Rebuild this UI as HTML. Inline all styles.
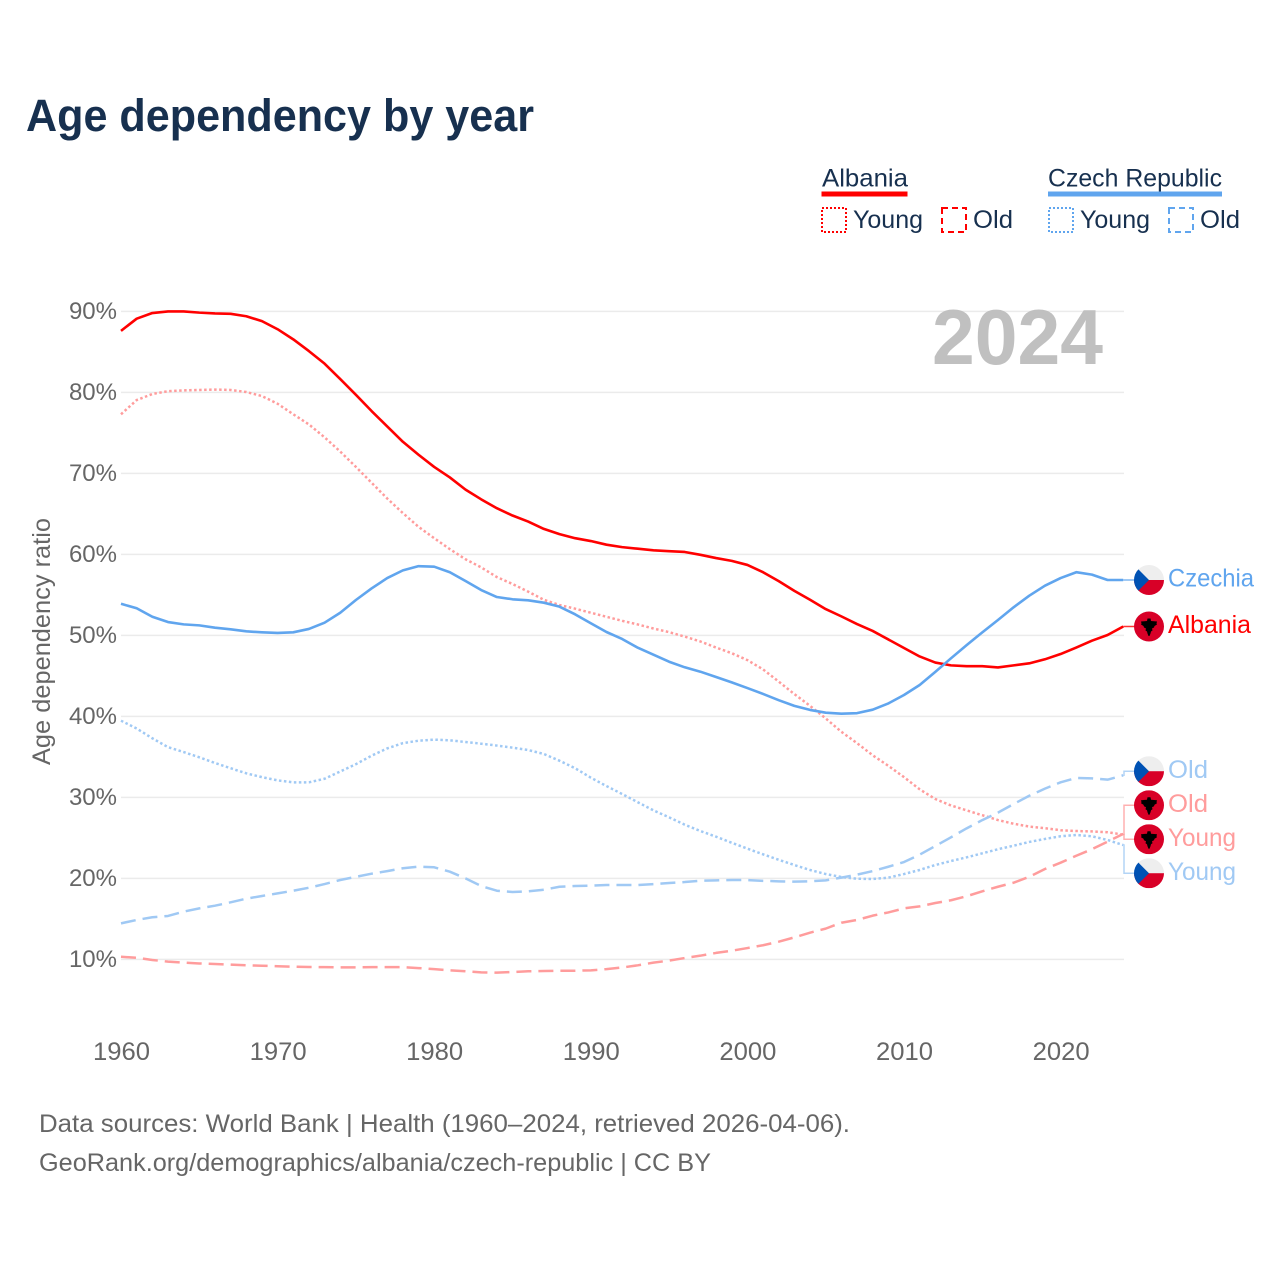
<!DOCTYPE html>
<html lang="en">
<head>
<meta charset="utf-8">
<title>Age dependency by year</title>
<style>
html,body{margin:0;padding:0;background:#fff;width:1280px;height:1280px;overflow:hidden}
svg{display:block}
text{font-family:"Liberation Sans",sans-serif}
</style>
</head>
<body>
<svg id="chart" width="1280" height="1280" viewBox="0 0 1280 1280" xmlns="http://www.w3.org/2000/svg">
  <defs><clipPath id="flag-clip"><circle cx="0" cy="0" r="15"></circle></clipPath></defs>
  <rect width="1280" height="1280" fill="#ffffff"></rect>
  <text x="26" y="131" font-size="45" font-weight="700" fill="#17304f" textLength="508" lengthAdjust="spacingAndGlyphs">Age dependency by year</text>

  <g font-size="25" fill="#17304f">
    <text x="822" y="186.5" textLength="86" lengthAdjust="spacingAndGlyphs">Albania</text>
    <rect x="821.5" y="191.5" width="86" height="5" fill="#ff0000"></rect>
    <rect x="822" y="208" width="24" height="24" fill="none" stroke="#ff0000" stroke-width="2" stroke-dasharray="2 2"></rect>
    <text x="853" y="228" textLength="70" lengthAdjust="spacingAndGlyphs">Young</text>
    <rect x="942" y="208" width="24" height="24" fill="none" stroke="#ff0000" stroke-width="2" stroke-dasharray="6 4"></rect>
    <text x="973" y="228" textLength="40" lengthAdjust="spacingAndGlyphs">Old</text>

    <text x="1048" y="186.5" textLength="174" lengthAdjust="spacingAndGlyphs">Czech Republic</text>
    <rect x="1048" y="191.5" width="174" height="5" fill="#60a5ee"></rect>
    <rect x="1049" y="208" width="24" height="24" fill="none" stroke="#60a5ee" stroke-width="2" stroke-dasharray="2 2"></rect>
    <text x="1080" y="228" textLength="70" lengthAdjust="spacingAndGlyphs">Young</text>
    <rect x="1169" y="208" width="24" height="24" fill="none" stroke="#60a5ee" stroke-width="2" stroke-dasharray="6 4"></rect>
    <text x="1200" y="228" textLength="40" lengthAdjust="spacingAndGlyphs">Old</text>
  </g>

  <g id="grid"></g>
  <g id="y-ticks"></g>
  <g id="x-ticks"></g>

  <text transform="translate(50,765) rotate(-90)" font-size="25" fill="#666666" textLength="247" lengthAdjust="spacingAndGlyphs">Age dependency ratio</text>

  <text x="932" y="364" font-size="78" font-weight="700" fill="#c0c0c0" textLength="171" lengthAdjust="spacingAndGlyphs">2024</text>

  <g id="series"></g>
  <g id="end-labels"></g>

  <text x="39" y="1132" font-size="25" fill="#666666" textLength="811" lengthAdjust="spacingAndGlyphs">Data sources: World Bank | Health (1960–2024, retrieved 2026-04-06).</text>
  <text x="39" y="1171" font-size="25" fill="#666666" textLength="672" lengthAdjust="spacingAndGlyphs">GeoRank.org/demographics/albania/czech-republic | CC BY</text>
</svg>

<script>
const firstYear = 1960;
const xTickYears = [1960, 1970, 1980, 1990, 2000, 2010, 2020];
const yTickValues = [10, 20, 30, 40, 50, 60, 70, 80, 90];

const albaniaTotal = [87.6,89.1,89.8,90.0,90.0,89.85,89.75,89.7,89.4,88.8,87.8,86.55,85.1,83.55,81.65,79.7,77.7,75.8,73.9,72.3,70.8,69.5,68.0,66.8,65.7,64.8,64.05,63.15,62.5,62.0,61.65,61.2,60.9,60.7,60.5,60.4,60.3,59.95,59.55,59.2,58.7,57.8,56.7,55.5,54.4,53.25,52.35,51.4,50.55,49.5,48.45,47.4,46.65,46.3,46.2,46.2,46.05,46.3,46.55,47.05,47.7,48.5,49.35,50.05,51.1];
const albaniaYoung = [77.3,79.05,79.8,80.15,80.25,80.3,80.35,80.3,80.05,79.55,78.6,77.3,76.05,74.45,72.7,70.8,68.85,66.9,65.1,63.4,62.0,60.65,59.4,58.4,57.2,56.35,55.4,54.4,53.75,53.3,52.8,52.3,51.8,51.35,50.85,50.4,49.85,49.25,48.5,47.8,46.95,45.8,44.3,42.75,41.3,39.75,38.1,36.7,35.2,33.9,32.5,31.0,29.8,29.0,28.4,27.8,27.2,26.75,26.4,26.2,25.95,25.85,25.8,25.7,25.4];
const albaniaOld = [10.33,10.2,9.93,9.72,9.6,9.5,9.43,9.35,9.27,9.22,9.15,9.1,9.06,9.05,9.02,9.02,9.05,9.05,9.05,8.93,8.8,8.65,8.53,8.4,8.36,8.44,8.53,8.57,8.6,8.6,8.65,8.8,9.0,9.27,9.6,9.85,10.17,10.46,10.8,11.07,11.4,11.75,12.19,12.72,13.3,13.8,14.53,14.87,15.4,15.8,16.3,16.55,16.96,17.3,17.8,18.4,18.97,19.47,20.2,21.16,21.94,22.8,23.6,24.53,25.5];
const czechTotal = [53.9,53.35,52.3,51.65,51.36,51.24,50.95,50.75,50.5,50.38,50.3,50.38,50.8,51.57,52.8,54.37,55.8,57.08,58.03,58.55,58.48,57.8,56.72,55.6,54.74,54.46,54.33,54.04,53.55,52.6,51.5,50.42,49.56,48.48,47.62,46.75,46.06,45.52,44.86,44.2,43.5,42.77,42.0,41.3,40.8,40.46,40.33,40.4,40.83,41.6,42.64,43.88,45.5,47.17,48.8,50.38,51.9,53.47,54.9,56.14,57.08,57.8,57.5,56.84,56.84];
const czechYoung = [39.47,38.5,37.3,36.2,35.6,34.95,34.25,33.6,32.97,32.5,32.1,31.86,31.86,32.3,33.2,34.1,35.15,36.05,36.7,37.0,37.13,37.05,36.84,36.63,36.4,36.14,35.85,35.36,34.53,33.6,32.44,31.4,30.42,29.4,28.4,27.54,26.63,25.85,25.15,24.4,23.67,22.97,22.3,21.65,21.04,20.54,20.17,19.96,19.93,20.09,20.54,21.04,21.65,22.15,22.6,23.1,23.6,24.04,24.5,24.87,25.2,25.36,25.2,24.74,24.12];
const czechOld = [14.45,14.87,15.2,15.36,15.9,16.3,16.63,17.05,17.5,17.83,18.15,18.48,18.85,19.3,19.8,20.2,20.58,20.9,21.25,21.45,21.37,20.83,20.0,19.06,18.48,18.32,18.4,18.6,18.97,19.06,19.1,19.18,19.18,19.18,19.3,19.43,19.55,19.72,19.76,19.8,19.8,19.7,19.64,19.6,19.64,19.76,20.1,20.46,20.9,21.44,22.02,22.93,24.0,25.07,26.18,27.2,28.12,29.18,30.2,31.08,31.86,32.4,32.35,32.19,32.73];

const SVG_NS = 'http://www.w3.org/2000/svg';
const RED = '#ff0000';
const BLUE = '#60a5ee';
const PALE_RED = '#ff9c9c';
const PALE_BLUE = '#a0c9f4';

function xScale(year) { return 121 + (year - firstYear) * 15.66; }
function yScale(value) { return 1040.4 - value * 8.1; }

function make(tag, attrs, parent) {
  const el = document.createElementNS(SVG_NS, tag);
  for (const k in attrs) el.setAttribute(k, attrs[k]);
  parent.appendChild(el);
  return el;
}

/* gridlines and y ticks */
const gridGroup = document.getElementById('grid');
const yTickGroup = document.getElementById('y-ticks');
yTickValues.forEach(function (v) {
  const line = make('line', {x1: 121, x2: 1124, y1: yScale(v), y2: yScale(v), stroke: '#ebebeb', 'stroke-width': 1.5}, gridGroup);
  
  
  const label = make('text', {x: 117, y: yScale(v) + 7.6, 'text-anchor': 'end', 'font-size': 24, fill: '#666666'}, yTickGroup);
  label.textContent = v + '%';
  
  
});

/* x ticks */
const xTickGroup = document.getElementById('x-ticks');
xTickYears.forEach(function (year) {
  const label = make('text', {x: xScale(year) + 0.5, y: 1060, 'text-anchor': 'middle', 'font-size': 25, fill: '#666666', textLength: 57, lengthAdjust: 'spacingAndGlyphs'}, xTickGroup);
  label.textContent = String(year);
  
  
});

/* series */
const seriesGroup = document.getElementById('series');
function drawLine(values, color, width, dash, name) {
  const pts = values.map(function (v, i) { return xScale(firstYear + i).toFixed(2) + ',' + yScale(v).toFixed(2); }).join(' ');
  const attrs = {points: pts, fill: 'none', stroke: color, 'stroke-width': width, 'stroke-linejoin': 'round'};
  if (dash) attrs['stroke-dasharray'] = dash;
  const line = make('polyline', attrs, seriesGroup);
  
  
}
drawLine(albaniaYoung, PALE_RED, 2.5, '2.5 2.5', 'line-albania-young');
drawLine(albaniaOld, PALE_RED, 2.5, '15 7', 'line-albania-old');
drawLine(czechYoung, PALE_BLUE, 2.5, '2.5 2.5', 'line-czech-young');
drawLine(czechOld, PALE_BLUE, 2.5, '15 7', 'line-czech-old');
drawLine(albaniaTotal, RED, 2.6, null, 'line-albania-total');
drawLine(czechTotal, BLUE, 2.6, null, 'line-czech-total');

/* end labels: laid out from last values, overlapping ones spread around their mean */
const last = function (a) { return a[a.length - 1]; };
const endItems = [
  {text: 'Czechia', width: 86, color: BLUE, flag: 'cz', lineY: yScale(last(czechTotal))},
  {text: 'Albania', width: 83, color: RED, flag: 'al', lineY: yScale(last(albaniaTotal))},
  {text: 'Old', width: 40, color: PALE_BLUE, flag: 'cz', lineY: yScale(last(czechOld))},
  {text: 'Old', width: 40, color: PALE_RED, flag: 'al', lineY: yScale(last(albaniaOld))},
  {text: 'Young', width: 68, color: PALE_RED, flag: 'al', lineY: yScale(last(albaniaYoung))},
  {text: 'Young', width: 68, color: PALE_BLUE, flag: 'cz', lineY: yScale(last(czechYoung))}
];
const SPACING = 34;
endItems.sort(function (a, b) { return a.lineY - b.lineY; });
let clusters = endItems.map(function (it) { return {items: [it], mean: it.lineY}; });
let merged = true;
while (merged) {
  merged = false;
  for (let i = 0; i < clusters.length - 1; i++) {
    const a = clusters[i], b = clusters[i + 1];
    const aBottom = a.mean + (a.items.length - 1) * SPACING / 2;
    const bTop = b.mean - (b.items.length - 1) * SPACING / 2;
    if (bTop - aBottom < SPACING) {
      const items = a.items.concat(b.items);
      const mean = items.reduce(function (s, it) { return s + it.lineY; }, 0) / items.length;
      clusters.splice(i, 2, {items: items, mean: mean});
      merged = true;
      break;
    }
  }
}
clusters.forEach(function (c) {
  c.items.forEach(function (it, i) {
    it.labelY = c.mean + (i - (c.items.length - 1) / 2) * SPACING;
  });
});

function drawFlag(parent, kind, cy) {
  const g = make('g', {transform: 'translate(1149,' + cy.toFixed(2) + ')'}, parent);
  
  
  const inner = make('g', {'clip-path': 'url(#flag-clip)'}, g);
  if (kind === 'cz') {
    make('rect', {x: -15, y: -15, width: 30, height: 15, fill: '#eeeeee'}, inner);
    make('rect', {x: -15, y: 0, width: 30, height: 15, fill: '#d80027'}, inner);
    make('polygon', {points: '-15,-15 -10.6,-10.6 0,0 -10.6,10.6 -15,15', fill: '#0052b4'}, inner);
  } else {
    make('rect', {x: -15, y: -15, width: 30, height: 30, fill: '#d80027'}, inner);
    make('polygon', {points: '-1.5,-8 1.5,-8 2,-5.5 8,-5 7.5,-3 8,-2 5.5,-0.5 5,1 3,2 3.5,4 2,5 1.5,7 0.5,9.5 -0.5,9.5 -1.5,7 -2,5 -3.5,4 -3,2 -5,1 -5.5,-0.5 -8,-2 -7.5,-3 -8,-5 -2,-5.5', fill: '#000000'}, inner);
  }
}

const labelGroup = document.getElementById('end-labels');
endItems.forEach(function (it) {
  const endX = xScale(firstYear + albaniaTotal.length - 1);
  const d = Math.abs(it.labelY - it.lineY) < 1.5
    ? 'M' + endX + ' ' + it.labelY.toFixed(2) + ' H1135'
    : 'M' + endX + ' ' + it.lineY.toFixed(2) + ' H1124 V' + it.labelY.toFixed(2) + ' H1135';
  const conn = make('path', {d: d, fill: 'none', stroke: it.color, 'stroke-width': 1.5, opacity: 0.8}, labelGroup);
  
  
  drawFlag(labelGroup, it.flag, it.labelY);
  const t = make('text', {x: 1168, y: it.labelY + 6.6, 'font-size': 25, fill: it.color, textLength: it.width, lengthAdjust: 'spacingAndGlyphs'}, labelGroup);
  t.textContent = it.text;
  
  
});
</script>
</body>
</html>
